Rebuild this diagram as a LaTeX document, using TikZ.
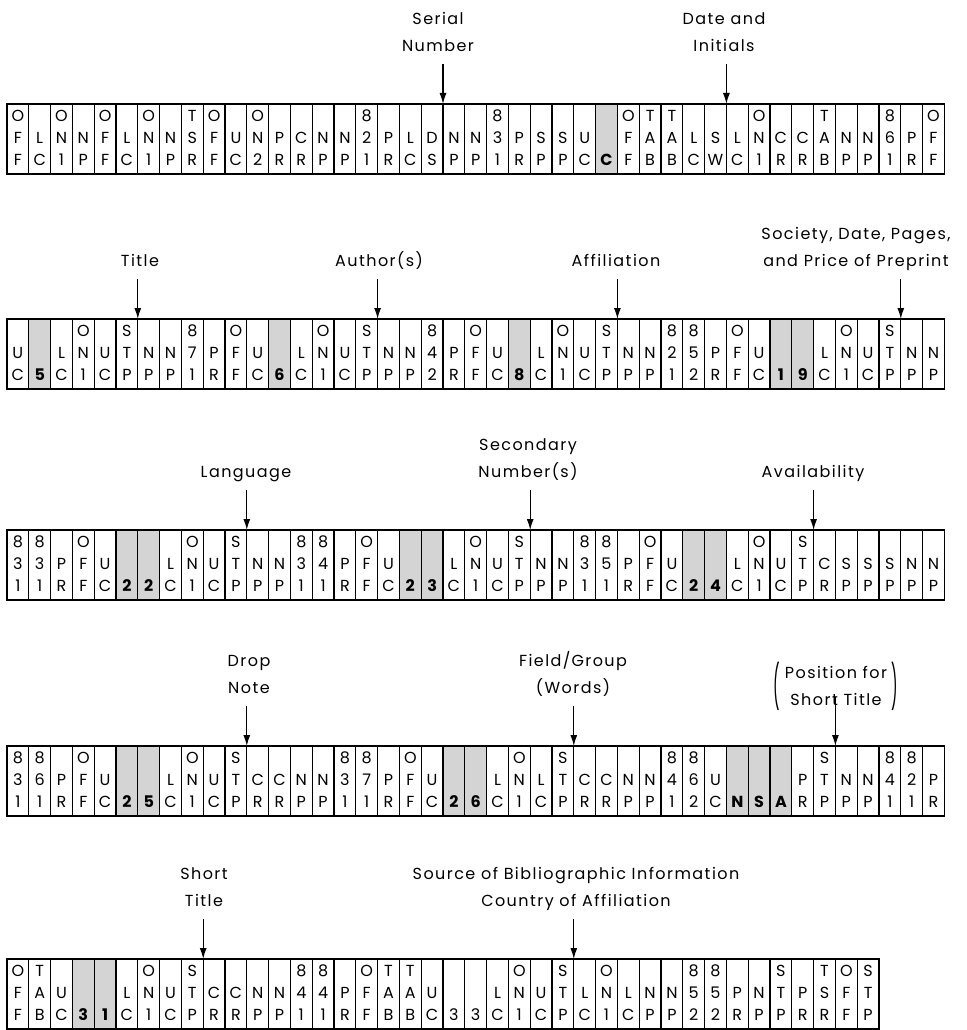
\documentclass[tikz,border=0pt]{standalone}
\usepackage{graphicx}
\usepackage{fontspec}
\setmainfont{Poppins}
\newfontfamily\labfam[LetterSpace=9]{Poppins}
\newfontfamily\cellfam{Poppins}
\usetikzlibrary{arrows.meta}
\newcommand\blk[1]{\if x#1\else#1\fi}
\newcommand\tallparen[1]{\vcenter{\hbox{\scalebox{0.9}[2.7]{#1}}}}
\tikzset{
  cellbox/.style={draw=black, line width=1.1pt, minimum width=21.8pt, minimum height=70pt,
    inner sep=0pt, outer sep=0pt, align=center, anchor=north west,
    font=\cellfam\fontsize{16}{22}\selectfont},
  cellfill/.style={},
  lab/.style={align=center, anchor=south, text depth=0pt, inner sep=0pt,
    font=\labfam\fontsize{16}{27}\selectfont},
  arr/.style={line width=1.3pt, -{Latex[length=11pt,width=7pt]}},
}
\newcommand\cellrow[3]{%
  \foreach \ta/\tm/\tb/\sh [count=\i] in {#3}{%
    \pgfmathsetmacro\xx{7+21.8*(\i-1)}%
    \if s\sh \tikzset{cellfill/.style={fill=black!17}}\def\bw{\bfseries}%
    \else \tikzset{cellfill/.style={}}\def\bw{}\fi
    \node[cellbox,cellfill] (#1c\i) at (\xx,#2) {\strut\blk\ta\\\strut\blk\tm\\\strut\bw\blk\tb};
  }%
}
\newcommand\pointer[3]{\draw[arr] (#2.south -| #1) ++(0,#3) -- (#1);}
\begin{document}
\begin{tikzpicture}[x=1pt,y=-1pt]
\useasboundingbox (0,0) rectangle (966,1030);
% ---------- row 1
\cellrow{r1}{104}{O/F/F/n, x/L/C/n, O/N/1/n, x/N/P/n, O/F/F/n, x/L/C/n, O/N/1/n, x/N/P/n, T/S/R/n, O/F/F/n, x/U/C/n, O/N/2/n, x/P/R/n, x/C/R/n, x/N/P/n, x/N/P/n, 8/2/1/n, x/P/R/n, x/L/C/n, x/D/S/n, x/N/P/n, x/N/P/n, 8/3/1/n, x/P/R/n, x/S/P/n, x/S/P/n, x/U/C/n, x/x/C/s, O/F/F/n, T/A/B/n, T/A/B/n, x/L/C/n, x/S/W/n, x/L/C/n, O/N/1/n, x/C/R/n, x/C/R/n, T/A/B/n, x/N/P/n, x/N/P/n, 8/6/1/n, x/P/R/n, O/F/F/n}
\node[lab] (l1a) at (438,52) {Serial\\Number};
\node[lab] (l1b) at (724,52) {Date and\\Initials};
\pointer{r1c20.north east}{l1a}{12}
\pointer{r1c33.north east}{l1b}{12}
% ---------- row 2
\cellrow{r2}{319}{x/U/C/n, x/x/5/s, x/L/C/n, O/N/1/n, x/U/C/n, S/T/P/n, x/N/P/n, x/N/P/n, 8/7/1/n, x/P/R/n, O/F/F/n, x/U/C/n, x/x/6/s, x/L/C/n, O/N/1/n, x/U/C/n, S/T/P/n, x/N/P/n, x/N/P/n, 8/4/2/n, x/P/R/n, O/F/F/n, x/U/C/n, x/x/8/s, x/L/C/n, O/N/1/n, x/U/C/n, S/T/P/n, x/N/P/n, x/N/P/n, 8/2/1/n, 8/5/2/n, x/P/R/n, O/F/F/n, x/U/C/n, x/x/1/s, x/x/9/s, x/L/C/n, O/N/1/n, x/U/C/n, S/T/P/n, x/N/P/n, x/N/P/n}
\node[lab] (l2a) at (140,267) {Title};
\node[lab] (l2b) at (379,267) {Author(s)};
\node[lab] (l2c) at (616,267) {Affiliation};
\node[lab] (l2d) at (856,267) {Society, Date, Pages,\\and Price of Preprint};
\pointer{r2c6.north east}{l2a}{12}
\pointer{r2c17.north east}{l2b}{12}
\pointer{r2c28.north east}{l2c}{12}
\pointer{r2c41.north east}{l2d}{12}
% ---------- row 3
\cellrow{r3}{530}{8/3/1/n, 8/3/1/n, x/P/R/n, O/F/F/n, x/U/C/n, x/x/2/s, x/x/2/s, x/L/C/n, O/N/1/n, x/U/C/n, S/T/P/n, x/N/P/n, x/N/P/n, 8/3/1/n, 8/4/1/n, x/P/R/n, O/F/F/n, x/U/C/n, x/x/2/s, x/x/3/s, x/L/C/n, O/N/1/n, x/U/C/n, S/T/P/n, x/N/P/n, x/N/P/n, 8/3/1/n, 8/5/1/n, x/P/R/n, O/F/F/n, x/U/C/n, x/x/2/s, x/x/4/s, x/L/C/n, O/N/1/n, x/U/C/n, S/T/P/n, x/C/R/n, x/S/P/n, x/S/P/n, x/S/P/n, x/N/P/n, x/N/P/n}
\node[lab] (l3a) at (246,478) {Language};
\node[lab] (l3b) at (528,478) {Secondary\\Number(s)};
\node[lab] (l3c) at (813,478) {Availability};
\pointer{r3c11.north east}{l3a}{12}
\pointer{r3c24.north east}{l3b}{12}
\pointer{r3c37.north east}{l3c}{12}
% ---------- row 4
\cellrow{r4}{746}{8/3/1/n, 8/6/1/n, x/P/R/n, O/F/F/n, x/U/C/n, x/x/2/s, x/x/5/s, x/L/C/n, O/N/1/n, x/U/C/n, S/T/P/n, x/C/R/n, x/C/R/n, x/N/P/n, x/N/P/n, 8/3/1/n, 8/7/1/n, x/P/R/n, O/F/F/n, x/U/C/n, x/x/2/s, x/x/6/s, x/L/C/n, O/N/1/n, x/L/C/n, S/T/P/n, x/C/R/n, x/C/R/n, x/N/P/n, x/N/P/n, 8/4/1/n, 8/6/2/n, x/U/C/n, x/x/N/s, x/x/S/s, x/x/A/s, x/P/R/n, S/T/P/n, x/N/P/n, x/N/P/n, 8/4/1/n, 8/2/1/n, x/P/R/n}
\node[lab] (l4a) at (249,694) {Drop\\Note};
\node[lab] (l4b) at (573,694) {Field/\hspace{1pt}Group\\(Words)};
\node[lab, anchor=center] (l4c) at (836,675) {$\tallparen{(}\;\vcenter{\hbox{\begin{tabular}{@{}c@{}}Position for\\Short Title\end{tabular}}}\;\tallparen{)}$};
\pointer{r4c38.north east}{l4c}{6}
\pointer{r4c11.north east}{l4a}{12}
\pointer{r4c26.north east}{l4b}{12}
% ---------- row 5
\cellrow{r5}{959}{O/F/F/n, T/A/B/n, x/U/C/n, x/x/3/s, x/x/1/s, x/L/C/n, O/N/1/n, x/U/C/n, S/T/P/n, x/C/R/n, x/C/R/n, x/N/P/n, x/N/P/n, 8/4/1/n, 8/4/1/n, x/P/R/n, O/F/F/n, T/A/B/n, T/A/B/n, x/U/C/n, x/x/3/n, x/x/3/n, x/L/C/n, O/N/1/n, x/U/C/n, S/T/P/n, x/L/C/n, O/N/1/n, x/L/C/n, x/N/P/n, x/N/P/n, 8/5/2/n, 8/5/2/n, x/P/R/n, x/N/P/n, S/T/P/n, x/P/R/n, T/S/R/n, O/F/F/n, S/T/P/n}
\node[lab] (l5a) at (204,907) {Short\\Title};
\node[lab] (l5b) at (576,907) {Source of Bibliographic Information\\Country of Affiliation};
\pointer{r5c9.north east}{l5a}{12}
\pointer{r5c26.north east}{l5b}{12}
\end{tikzpicture}
\end{document}
